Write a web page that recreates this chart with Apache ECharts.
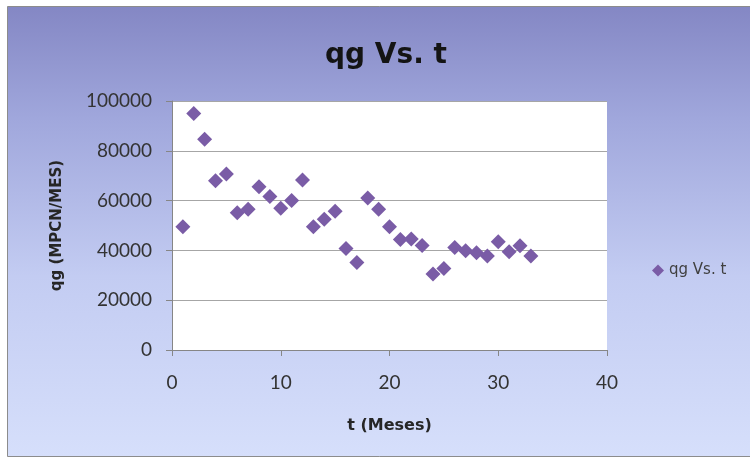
<!DOCTYPE html>
<html><head><meta charset="utf-8">
<script src="https://cdn.jsdelivr.net/npm/echarts@6/dist/echarts.min.js"></script>
<style>html,body{margin:0;padding:0;background:#fff}#c{width:750px;height:459px}</style>
</head><body><div id="c"></div>
<script>
const months = [1,2,3,4,5,6,7,8,9,10,11,12,13,14,15,16,17,18,19,20,21,22,23,24,25,26,27,28,29,30,31,32,33];
const qg = [49500,95000,84600,68000,70700,55100,56500,65600,61600,56900,60000,68300,49500,52500,55700,40800,35100,61000,56500,49500,44400,44600,42000,30500,32700,41200,39900,39100,37800,43500,39500,41900,37800];
const yTicks = [0,20000,40000,60000,80000,100000];
const xTicks = [0,10,20,30,40];
const seriesName = 'qg Vs. t';

const chart = echarts.init(document.getElementById('c'), null, {renderer:'canvas'});
const tickFont = 'Lato, "Open Sans", sans-serif';
const headFont = '"DejaVu Sans", sans-serif';
chart.setOption({
  backgroundColor: '#ffffff',
  animation: false,
  graphic: [{
    type: 'rect', z: -10, silent: true,
    shape: {x: 7.5, y: 6.5, width: 750, height: 450},
    style: {
      fill: new echarts.graphic.LinearGradient(0,0,0,1,[
        {offset:0, color:'#8487c4'},
        {offset:0.25, color:'#a0a7dc'},
        {offset:0.6, color:'#c3ccf2'},
        {offset:1, color:'#d6dffb'}
      ]),
      stroke: '#8c8c8c', lineWidth: 1
    }
  }],
  title: {
    text: 'qg Vs. t', left: 386, top: 42, textAlign: 'center', padding: 0,
    textStyle: {fontFamily: headFont, fontSize: 28, fontWeight: 'bold', color: '#141414'}
  },
  legend: {
    data: [{name: seriesName, icon: 'diamond'}],
    left: 652, top: 263, itemWidth: 12, itemHeight: 12, itemGap: 4, padding: 0,
    textStyle: {fontFamily: headFont, fontSize: 15, color: '#404040'}
  },
  grid: {left: 172, right: 143, top: 101, bottom: 109, show: true, backgroundColor: '#ffffff', borderWidth: 0, containLabel: false},
  xAxis: {
    type: 'value', min: xTicks[0], max: xTicks[xTicks.length-1], interval: 10,
    name: 't (Meses)', nameLocation: 'middle', nameGap: 68,
    nameTextStyle: {fontFamily: headFont, fontSize: 16, fontWeight: 'bold', color: '#262626'},
    axisLine: {show: true, lineStyle: {color: '#868686'}},
    axisTick: {show: true, length: 6, lineStyle: {color: '#868686'}},
    axisLabel: {fontFamily: tickFont, fontSize: 19, color: '#333333', margin: 23},
    splitLine: {show: false}
  },
  yAxis: {
    type: 'value', min: yTicks[0], max: yTicks[yTicks.length-1], interval: 20000,
    name: 'qg (MPCN/MES)', nameLocation: 'middle', nameGap: 107, nameRotate: 90,
    nameTextStyle: {fontFamily: headFont, fontSize: 15, fontWeight: 'bold', color: '#262626'},
    axisLine: {show: true, lineStyle: {color: '#868686'}},
    axisTick: {show: true, length: 6, lineStyle: {color: '#868686'}},
    axisLabel: {fontFamily: tickFont, fontSize: 19, color: '#333333', margin: 20, formatter: v => String(v)},
    splitLine: {show: true, lineStyle: {color: '#a6a6a6', width: 1}}
  },
  series: [{
    name: seriesName, type: 'scatter', symbol: 'diamond', symbolSize: 15,
    itemStyle: {color: '#7a5ca6', opacity: 1},
    data: months.map((m,i) => [m, qg[i]])
  }]
});
</script></body></html>
